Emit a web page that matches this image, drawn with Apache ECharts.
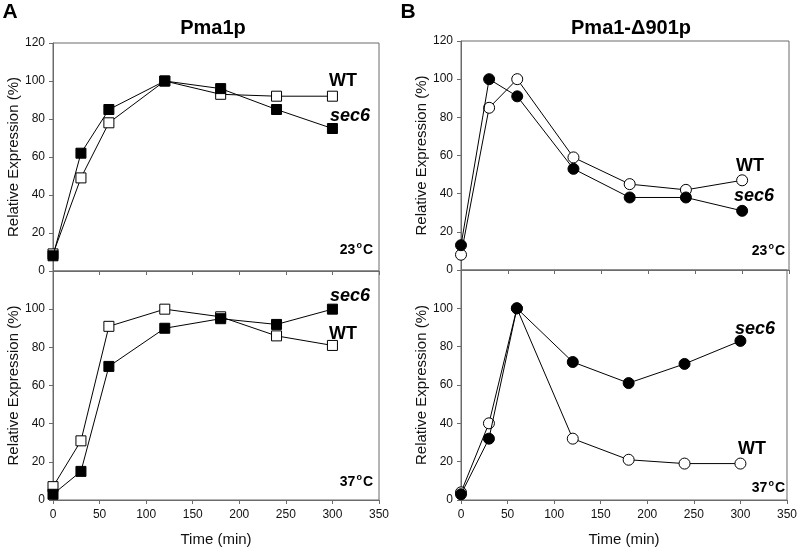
<!DOCTYPE html>
<html>
<head>
<meta charset="utf-8">
<script src="https://cdn.jsdelivr.net/npm/echarts@6/dist/echarts.min.js"></script>
<style>html,body{margin:0;padding:0;background:#fff}#c{width:800px;height:553px}</style>
</head>
<body>
<div id="c"></div>
<script>
// ---- data ----
const times = [0, 30, 60, 120, 180, 240, 300];
const xTicks = [0, 50, 100, 150, 200, 250, 300, 350];
const yTicksTop = [0, 20, 40, 60, 80, 100, 120];
const yTicksBottom = [0, 20, 40, 60, 80, 100];

// Panel A: Pma1p
const pma1_23_WT   = [9, 49, 78, 100, 93, 92, 92];
const pma1_23_sec6 = [8, 62, 85, 100, 96, 85, 75];
const pma1_37_WT   = [7, 31, 91, 100, 96, 86, 81];
const pma1_37_sec6 = [3, 15, 70, 90, 95, 92, 100];

// Panel B: Pma1-Δ901p
const d901_23_WT   = [8, 85, 100, 59, 45, 42, 47];
const d901_23_sec6 = [13, 100, 91, 53, 38, 38, 31];
const d901_37_WT   = [4, 40, 100, 32, 21, 19, 19];
const d901_37_sec6 = [3, 32, 100, 72, 61, 71, 83];

const titles = ['Pma1p', 'Pma1-\u0394901p'];
const panelLetters = ['A', 'B'];
const yName = 'Relative Expression (%)';
const xName = 'Time (min)';

// ---- chart ----
const FONT = '"Liberation Sans", Arial, Helvetica, sans-serif';
const AX = '#6b6b6b';
const chart = echarts.init(document.getElementById('c'), null, {renderer: 'canvas'});

const grids = [
  {left: 53, top: 43, width: 326, height: 228},
  {left: 53, top: 271, width: 326, height: 229},
  {left: 461, top: 41, width: 328, height: 229},
  {left: 461, top: 270, width: 328, height: 230}
].map(g => Object.assign({}, g, {show: true, borderColor: AX, borderWidth: 1, backgroundColor: 'transparent'}));

function xAxis(i, bottom) {
  return {
    type: 'value', gridIndex: i, min: xTicks[0], max: xTicks[xTicks.length - 1], interval: xTicks[1] - xTicks[0],
    axisLine: {show: true, onZero: false, lineStyle: {color: AX, width: 1}},
    axisTick: {show: true, inside: false, length: 4, lineStyle: {color: AX}},
    axisLabel: {show: bottom, margin: 9, fontSize: 12, color: '#111', fontFamily: FONT},
    splitLine: {show: false},
    name: bottom ? xName : '', nameLocation: 'middle', nameGap: 32,
    nameTextStyle: {fontSize: 15, color: '#111', fontFamily: FONT}
  };
}
function yAxis(i, top) {
  const ticks = top ? yTicksTop : yTicksBottom;
  return {
    type: 'value', gridIndex: i, min: 0, max: 120, interval: 20,
    axisLine: {show: true, lineStyle: {color: AX, width: 1}},
    axisTick: {show: true, inside: false, length: 4, lineStyle: {color: AX}},
    axisLabel: {margin: 8, fontSize: 12, color: '#111', fontFamily: FONT,
      formatter: v => ticks.indexOf(v) >= 0 ? String(v) : ''},
    splitLine: {show: false},
    name: yName, nameLocation: 'middle', nameGap: 32, nameRotate: 90,
    nameTextStyle: {fontSize: 15, color: '#111', fontFamily: FONT}
  };
}

function line(i, data, symbol, filled) {
  return {
    type: 'line', xAxisIndex: i, yAxisIndex: i,
    data: times.map((t, k) => [t, data[k]]),
    symbol: symbol, symbolSize: symbol === 'rect' ? 10 : 11,
    showSymbol: true, clip: false, animation: false,
    lineStyle: {color: '#000', width: 1},
    itemStyle: {color: filled ? '#000' : '#fff', borderColor: '#000', borderWidth: 1},
    z: filled ? 3 : 2
  };
}

function txt(x, y, text, opts) {
  return {type: 'text', x: x, y: y, style: Object.assign({
    text: text, fill: '#000', align: 'center', verticalAlign: 'middle',
    font: 'bold 18px ' + FONT}, opts || {})};
}
function temp(x, y, t) {
  return {type: 'text', x: x, y: y, style: {
    text: '{a|' + t + '}{s|o}{a|C}', align: 'right', verticalAlign: 'middle',
    rich: {
      a: {fontSize: 14, fontWeight: 'bold', fontFamily: FONT, fill: '#000', color: '#000'},
      s: {fontSize: 9, fontWeight: 'bold', fontFamily: FONT, fill: '#000', color: '#000', padding: [0, 1, 8, 1]}
    }}};
}

const option = {
  backgroundColor: '#fff',
  animation: false,
  grid: grids,
  xAxis: [xAxis(0, false), xAxis(1, true), xAxis(2, false), xAxis(3, true)],
  yAxis: [yAxis(0, true), yAxis(1, false), yAxis(2, true), yAxis(3, false)],
  series: [
    line(0, pma1_23_WT, 'rect', false), line(0, pma1_23_sec6, 'rect', true),
    line(1, pma1_37_WT, 'rect', false), line(1, pma1_37_sec6, 'rect', true),
    line(2, d901_23_WT, 'circle', false), line(2, d901_23_sec6, 'circle', true),
    line(3, d901_37_WT, 'circle', false), line(3, d901_37_sec6, 'circle', true)
  ],
  graphic: [
    txt(10, 12, panelLetters[0], {font: 'bold 21px ' + FONT}),
    txt(408, 12, panelLetters[1], {font: 'bold 21px ' + FONT}),
    txt(213, 28, titles[0], {font: 'bold 20px ' + FONT}),
    txt(631, 28, titles[1], {font: 'bold 20px ' + FONT}),
    txt(343, 81, 'WT'), txt(350, 116, 'sec6', {font: 'italic bold 18px ' + FONT}),
    txt(350, 296, 'sec6', {font: 'italic bold 18px ' + FONT}), txt(343, 334, 'WT'),
    txt(750, 166, 'WT'), txt(754, 196, 'sec6', {font: 'italic bold 18px ' + FONT}),
    txt(755, 329, 'sec6', {font: 'italic bold 18px ' + FONT}), txt(752, 449, 'WT'),
    temp(373, 250, '23'), temp(373, 482, '37'),
    temp(785, 251, '23'), temp(785, 488, '37')
  ]
};
chart.setOption(option);
</script>
</body>
</html>
